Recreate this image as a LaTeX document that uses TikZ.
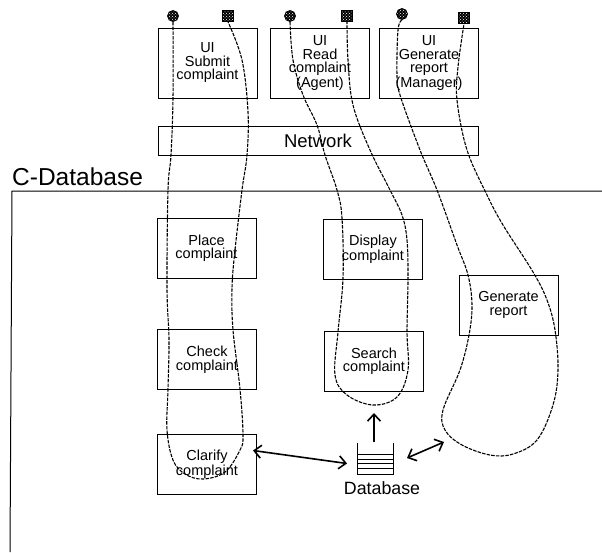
\documentclass[tikz,border=0pt]{standalone}
\usepackage{fontspec}
\setmainfont{Liberation Sans}
\usetikzlibrary{arrows.meta,calc,patterns}
\tikzset{
  box/.style={draw,line width=1pt,minimum width=99pt,minimum height=60pt,align=center,font=\fontsize{14.5}{13.5}\selectfont,inner sep=0pt},
  uibox/.style={box,minimum height=70pt},
  port/.style={draw,line width=0.8pt,preaction={fill=black},pattern=crosshatch dots,pattern color=white,inner sep=0pt,minimum size=11pt},
  flow/.style={line width=1.1pt,dash pattern=on 3.5pt off 1.2pt},
  link/.style={line width=1.6pt,>={Straight Barb[length=7pt,width=13pt]}}
}
\begin{document}
\begin{tikzpicture}[x=1pt,y=-1pt]
  \useasboundingbox (0,0) rectangle (602,552);
  \node[uibox] (submit) at (207.5,63) {UI\\Submit\\complaint};
  \node[uibox] (read) at (320,63) {UI\\Read\\complaint\\(Agent)};
  \node[uibox] (manager) at (429,63) {UI\\Generate\\report\\(Manager)};
  \node[box,minimum width=320pt,minimum height=29pt,font=\fontsize{18.5}{18.5}\selectfont] (network) at (318,140.5) {Network};
  \node[anchor=west,inner sep=0pt,font=\fontsize{24.5}{25}\selectfont] (title) at (12,177) {C-Database};
  \coordinate (corner) at (12,191);
  \coordinate (bottom) at (10,552);
  \coordinate (right) at (602,191);
  \draw[line width=1pt] (bottom) -- (corner) -- (right);
  \node[box] (place) at (206.5,248) {Place\\complaint};
  \node[box] (display) at (373,249) {Display\\complaint};
  \node[box] (generate) at (508.5,305) {Generate\\report};
  \node[box] (check) at (207,359.5) {Check\\complaint};
  \node[box] (search) at (374,361) {Search\\complaint};
  \node[box] (clarify) at (207,464) {Clarify\\complaint};
  \node[minimum width=35pt,minimum height=31pt,inner sep=0pt] (db) at (375.5,458.5) {};
  \node[font=\fontsize{17.8}{18}\selectfont,inner sep=0pt] (dblabel) at (382,488) {Database};
  \draw[line width=1pt] (db.north west) -- (db.south west) -- (db.south east) -- (db.north east);
  \foreach \y in {12,17,21,26}
    \draw[line width=0.7pt] ($(db.north west)+(0,\y)$) -- ($(db.north east)+(0,\y)$);
  \node[port,circle] (p1) at (173,16) {};
  \node[port] (p2) at (228,16) {};
  \node[port,circle] (p3) at (290,16) {};
  \node[port] (p4) at (347,16) {};
  \node[port,circle] (p5) at (402,14) {};
  \node[port] (p6) at (464,18) {};
  \draw[flow] plot[smooth,tension=0.6] coordinates {(p1.south) (173,98) (171,155) (168,190) (167,288) (169,340) (168,389) (167,430) (173,460) (185,474) (203,479) (225,472) (240,450) (243,435) (240,389) (233,330) (232,288) (235,250) (242,190) (247,155) (248,112) (242,60) (p2.south)};
  \draw[flow] plot[smooth,tension=0.6] coordinates {(p3.south) (293,60) (303,95) (317,125) (325,155) (337,190) (342,218) (343,278) (338,332) (335,375) (347,395) (373,405) (397,397) (408,370) (407,332) (408,278) (407,240) (402,215) (390,190) (370,150) (353,105) (348,60) (p4.south)};
  \draw[flow] plot[smooth,tension=0.6] coordinates {(p5.south) (398,30) (397,75) (400,95) (420,150) (437,190) (457,245) (468,275) (472,305) (469,335) (460,370) (443,410) (445,430) (462,445) (490,455) (513,454) (537,440) (553,405) (558,370) (555,330) (547,300) (533,272) (503,225) (487,195) (467,150) (457,100) (458,67) (p6.south)};
  \coordinate (clarifyend) at (253,450.5);
  \coordinate (dbleft) at (347,463.5);
  \coordinate (dbright) at (407,458);
  \coordinate (dbup) at (374,442);
  \coordinate (searchend) at (374,413);
  \coordinate (loopend) at (444,442);
  \draw[link,<->] (clarifyend) -- (dbleft);
  \draw[link,<->] (dbright) -- (loopend);
  \draw[link,->] (dbup) -- (searchend);
\end{tikzpicture}
\end{document}
